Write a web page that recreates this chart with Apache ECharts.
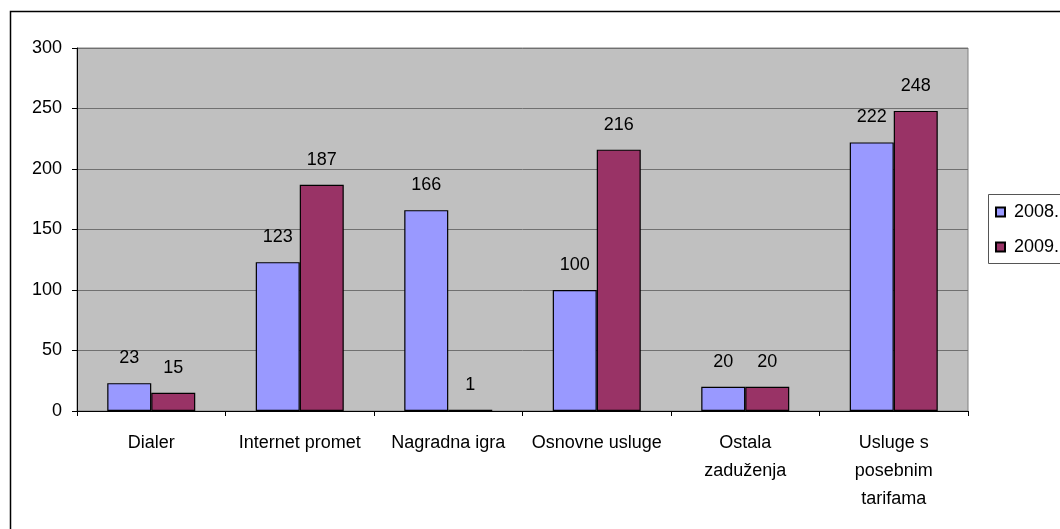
<!DOCTYPE html>
<html>
<head>
<meta charset="utf-8">
<script src="https://cdn.jsdelivr.net/npm/echarts@6/dist/echarts.min.js"></script>
<style>
html,body{margin:0;padding:0;background:#fff;}
#chart{width:1060px;height:529px;}
</style>
</head>
<body>
<div id="chart"></div>
<script>
const categories = ['Dialer', 'Internet promet', 'Nagradna igra', 'Osnovne usluge', 'Ostala\nzaduženja', 'Usluge s\nposebnim\ntarifama'];
const series2008 = [23, 123, 166, 100, 20, 222];
const series2009 = [15, 187, 1, 216, 20, 248];
const seriesNames = ['2008.', '2009.'];
const yTicks = {min: 0, max: 300, interval: 50};

const FONT = 'Liberation Sans, Arial, sans-serif';
const chart = echarts.init(document.getElementById('chart'), null, {renderer: 'canvas'});
const labelStyle = {show: true, position: 'top', distance: 16, color: '#000', fontSize: 18, fontFamily: FONT};
chart.setOption({
  backgroundColor: '#fff',
  animation: false,
  textStyle: {fontFamily: FONT},
  graphic: [
    {type: 'rect', shape: {x: 10.5, y: 11.5, width: 1200, height: 700}, style: {fill: 'none', stroke: '#000', lineWidth: 1.5}, z: -1},
    {type: 'rect', shape: {x: 988.5, y: 194.5, width: 200, height: 69}, style: {fill: '#fff', stroke: '#555', lineWidth: 1}, z: 0}
  ],
  grid: {left: 77, top: 48, right: 92, bottom: 118, show: true, backgroundColor: '#C0C0C0', borderColor: '#808080', borderWidth: 1, containLabel: false},
  legend: {
    data: seriesNames, orient: 'vertical', left: 995, top: 203, padding: 0, itemWidth: 9, itemHeight: 9, itemGap: 17, icon: 'rect',
    textStyle: {fontSize: 18, color: '#000', fontFamily: FONT, padding: [0, 0, 0, 4]},
    z: 5
  },
  xAxis: {
    type: 'category', data: categories,
    axisLine: {lineStyle: {color: '#000', width: 1}},
    axisTick: {show: true, length: 5, lineStyle: {color: '#000'}, alignWithLabel: false},
    axisLabel: {color: '#000', fontSize: 18, fontFamily: FONT, margin: 18, lineHeight: 28, interval: 0}
  },
  yAxis: {
    type: 'value', min: yTicks.min, max: yTicks.max, interval: yTicks.interval,
    axisLine: {show: true, lineStyle: {color: '#000', width: 1}},
    axisTick: {show: true, length: 5, lineStyle: {color: '#000'}},
    axisLabel: {color: '#000', fontSize: 18, fontFamily: FONT, margin: 15},
    splitLine: {show: true, lineStyle: {color: '#707070', width: 1}}
  },
  series: [
    {name: seriesNames[0], type: 'bar', data: series2008, barWidth: 44, barGap: '0%',
     itemStyle: {color: '#9999FF', borderColor: '#000', borderWidth: 1.2}, label: labelStyle},
    {name: seriesNames[1], type: 'bar', data: series2009, barWidth: 44,
     itemStyle: {color: '#993366', borderColor: '#000', borderWidth: 1.2}, label: labelStyle}
  ]
});
</script>
</body>
</html>
